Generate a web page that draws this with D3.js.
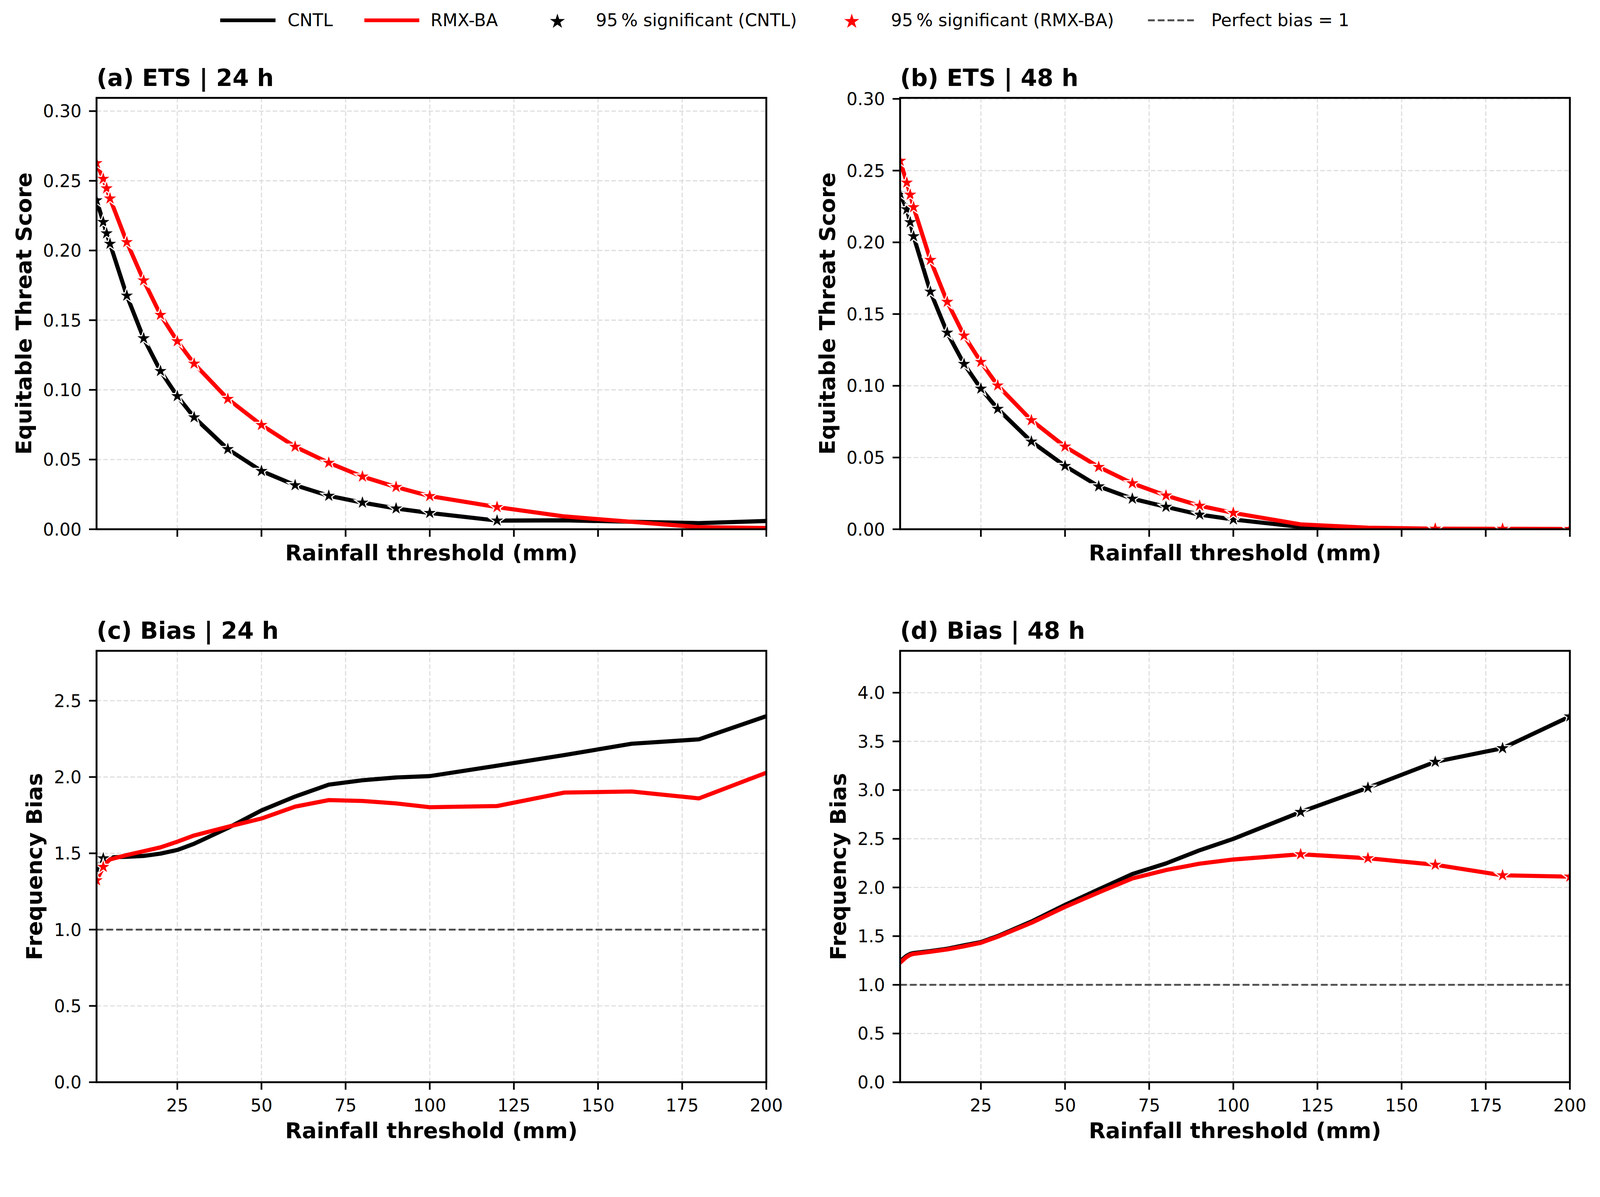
<!DOCTYPE html>
<html>
<head>
<meta charset="utf-8">
<script src="https://cdn.jsdelivr.net/npm/d3@7"></script>
<style>
  html, body { margin: 0; padding: 0; background: #fff; overflow: hidden; }
  svg { display: block; width: 100vw; height: calc(100vw * 3064 / 4251); font-family: 'DejaVu Sans', sans-serif; }
</style>
</head>
<body>
<div id="verification-chart"></div>
<script>
// rainfall thresholds (mm)
var thresholds = [1, 3, 4, 5, 10, 15, 20, 25, 30, 40, 50, 60, 70, 80, 90, 100, 120, 140, 160, 180, 200]

// equitable threat score
var ets24Cntl = [0.236, 0.2204, 0.2123, 0.2048, 0.1676, 0.137, 0.1135, 0.0955, 0.0803, 0.0575, 0.0418, 0.0316, 0.024, 0.0191, 0.0149, 0.0117, 0.0062, 0.0064, 0.0054, 0.0044, 0.0059]
var ets24Rmx = [0.2627, 0.2514, 0.2446, 0.2373, 0.206, 0.1785, 0.1538, 0.1349, 0.1188, 0.0935, 0.0748, 0.0592, 0.0477, 0.0378, 0.0303, 0.0238, 0.0159, 0.0092, 0.0053, 0.0015, 0.0009]
var ets48Cntl = [0.234, 0.223, 0.214, 0.2042, 0.1656, 0.137, 0.1152, 0.098, 0.0839, 0.0611, 0.0441, 0.0299, 0.0213, 0.0156, 0.0102, 0.0068, 0.0016, 0.0004, 0.0001, 0, 0]
var ets48Rmx = [0.2568, 0.2416, 0.2332, 0.2245, 0.1877, 0.1585, 0.135, 0.1166, 0.1002, 0.076, 0.0576, 0.0434, 0.032, 0.0235, 0.0164, 0.0114, 0.0034, 0.0011, 0.0004, 0.0003, 0.0002]

// frequency bias
var bias24Cntl = [1.4, 1.467, 1.472, 1.474, 1.477, 1.483, 1.498, 1.522, 1.563, 1.666, 1.781, 1.872, 1.95, 1.979, 1.997, 2.006, 2.074, 2.144, 2.218, 2.247, 2.399]
var bias24Rmx = [1.323, 1.411, 1.44, 1.46, 1.489, 1.514, 1.539, 1.576, 1.617, 1.674, 1.728, 1.806, 1.849, 1.843, 1.827, 1.802, 1.81, 1.898, 1.905, 1.86, 2.028]
var bias48Cntl = [1.244, 1.3, 1.318, 1.327, 1.347, 1.371, 1.406, 1.439, 1.501, 1.65, 1.821, 1.98, 2.138, 2.247, 2.382, 2.499, 2.775, 3.024, 3.29, 3.43, 3.756]
var bias48Rmx = [1.228, 1.288, 1.308, 1.318, 1.34, 1.364, 1.396, 1.432, 1.494, 1.637, 1.8, 1.949, 2.092, 2.179, 2.244, 2.287, 2.341, 2.3, 2.233, 2.125, 2.111]

// 95% significance flags (1 = significant) per threshold
var sigEts24Cntl = [1, 1, 1, 1, 1, 1, 1, 1, 1, 1, 1, 1, 1, 1, 1, 1, 1, 0, 0, 0, 0]
var sigEts24Rmx = [1, 1, 1, 1, 1, 1, 1, 1, 1, 1, 1, 1, 1, 1, 1, 1, 1, 0, 0, 0, 0]
var sigEts48Cntl = [1, 1, 1, 1, 1, 1, 1, 1, 1, 1, 1, 1, 1, 1, 1, 1, 0, 0, 0, 0, 0]
var sigEts48Rmx = [1, 1, 1, 1, 1, 1, 1, 1, 1, 1, 1, 1, 1, 1, 1, 1, 0, 0, 1, 1, 1]
var sigBias24Cntl = [1, 1, 0, 0, 0, 0, 0, 0, 0, 0, 0, 0, 0, 0, 0, 0, 0, 0, 0, 0, 0]
var sigBias24Rmx = [1, 1, 0, 0, 0, 0, 0, 0, 0, 0, 0, 0, 0, 0, 0, 0, 0, 0, 0, 0, 0]
var sigBias48Cntl = [0, 0, 0, 0, 0, 0, 0, 0, 0, 0, 0, 0, 0, 0, 0, 0, 1, 1, 1, 1, 1]
var sigBias48Rmx = [0, 0, 0, 0, 0, 0, 0, 0, 0, 0, 0, 0, 0, 0, 0, 0, 1, 1, 1, 1, 1]

// ticks and labels
var xTicks = [25, 50, 75, 100, 125, 150, 175, 200]
var etsTicks = [0, 0.05, 0.1, 0.15, 0.2, 0.25, 0.3]
var bias24Ticks = [0, 0.5, 1, 1.5, 2, 2.5]
var bias48Ticks = [0, 0.5, 1, 1.5, 2, 2.5, 3, 3.5, 4]
var panelTitles = ['(a) ETS | 24 h', '(b) ETS | 48 h', '(c) Bias | 24 h', '(d) Bias | 48 h']
var yLabels = ['Equitable Threat Score', 'Equitable Threat Score', 'Frequency Bias', 'Frequency Bias']
var xLabel = 'Rainfall threshold (mm)'
var legendLabels = ['CNTL', 'RMX-BA', '95\u2009% significant (CNTL)', '95\u2009% significant (RMX-BA)', 'Perfect bias = 1']
var perfectBias = 1

var COLOR = { CNTL: '#000000', RMX: '#ff0000', GRID: '#dddddd', REF: '#4d4d4d' }

// figure size (drawn in these units, scaled to the window width)
var fig_width = 4251
var fig_height = 3064

var svg = d3
  .select('#verification-chart')
  .append('svg')
  .attr('viewBox', '0 0 ' + fig_width + ' ' + fig_height)
  .attr('preserveAspectRatio', 'xMidYMin meet')

svg.append('rect').attr('width', fig_width).attr('height', fig_height).attr('fill', 'white')

// five-pointed star like matplotlib's '*' marker
function starPath (R) {
  var pts = d3.range(10).map(i => {
    var a = -Math.PI / 2 + i * Math.PI / 5
    var r = i % 2 ? R * 0.381966 : R
    return [r * Math.cos(a), r * Math.sin(a)]
  })
  return 'M' + pts.join('L') + 'Z'
}

// panel boxes
var colLeft = [256.5, 2391.5]
var rowTop = [260, 1729]
var panel_w = 1779.5
var panel_h = 1146

var panels = [
  { title: panelTitles[0], ylab: yLabels[0], cntl: ets24Cntl, rmx: ets24Rmx, sigC: sigEts24Cntl, sigR: sigEts24Rmx, ymax: 0.3095, ticks: etsTicks, fmt: '.2f', col: 0, row: 0, ref: false, labOff: 174 },
  { title: panelTitles[1], ylab: yLabels[1], cntl: ets48Cntl, rmx: ets48Rmx, sigC: sigEts48Cntl, sigR: sigEts48Rmx, ymax: 0.3007, ticks: etsTicks, fmt: '.2f', col: 1, row: 0, ref: false, labOff: 174 },
  { title: panelTitles[2], ylab: yLabels[2], cntl: bias24Cntl, rmx: bias24Rmx, sigC: sigBias24Cntl, sigR: sigBias24Rmx, ymax: 2.827, ticks: bias24Ticks, fmt: '.1f', col: 0, row: 1, ref: true, labOff: 145 },
  { title: panelTitles[3], ylab: yLabels[3], cntl: bias48Cntl, rmx: bias48Rmx, sigC: sigBias48Cntl, sigR: sigBias48Rmx, ymax: 4.43, ticks: bias48Ticks, fmt: '.1f', col: 1, row: 1, ref: true, labOff: 145 }
]

var plotStar = starPath(22)

panels.forEach((p, k) => {
  var g = svg
    .append('g')
    .attr('transform', 'translate(' + colLeft[p.col] + ',' + rowTop[p.row] + ')')

  var x = d3.scaleLinear().domain([1, 200]).range([0, panel_w])
  var y = d3.scaleLinear().domain([0, p.ymax]).range([panel_h, 0])

  // clip to axes area
  g.append('clipPath')
    .attr('id', 'clip-' + k)
    .append('rect')
    .attr('width', panel_w)
    .attr('height', panel_h)

  // grid
  g.selectAll('.vgrid')
    .data(xTicks)
    .enter()
    .append('line')
    .attr('x1', d => x(d))
    .attr('x2', d => x(d))
    .attr('y1', 0)
    .attr('y2', panel_h)
    .attr('stroke', COLOR.GRID)
    .attr('stroke-width', 3)
    .attr('stroke-dasharray', '12,6')

  g.selectAll('.hgrid')
    .data(p.ticks)
    .enter()
    .append('line')
    .attr('x1', 0)
    .attr('x2', panel_w)
    .attr('y1', d => y(d))
    .attr('y2', d => y(d))
    .attr('stroke', COLOR.GRID)
    .attr('stroke-width', 3)
    .attr('stroke-dasharray', '12,6')

  var plot = g.append('g').attr('clip-path', 'url(#clip-' + k + ')')

  if (p.ref) {
    plot
      .append('line')
      .attr('x1', 0)
      .attr('x2', panel_w)
      .attr('y1', y(perfectBias))
      .attr('y2', y(perfectBias))
      .attr('stroke', COLOR.REF)
      .attr('stroke-width', 5)
      .attr('stroke-dasharray', '18,8')
  }

  var line = d3
    .line()
    .x((d, i) => x(thresholds[i]))
    .y(d => y(d))

  var series = [
    { vals: p.cntl, sig: p.sigC, color: COLOR.CNTL },
    { vals: p.rmx, sig: p.sigR, color: COLOR.RMX }
  ]

  series.forEach(s => {
    plot
      .append('path')
      .datum(s.vals)
      .attr('d', line)
      .attr('fill', 'none')
      .attr('stroke', s.color)
      .attr('stroke-width', 11)
      .attr('stroke-linejoin', 'round')
      .attr('stroke-linecap', 'square')

    var pts = s.vals
      .map((v, i) => ({ t: thresholds[i], v: v, sig: s.sig[i] }))
      .filter(d => d.sig === 1)

    plot
      .selectAll(null)
      .data(pts)
      .enter()
      .append('path')
      .attr('d', plotStar)
      .attr('transform', d => 'translate(' + x(d.t) + ',' + y(d.v) + ')')
      .attr('fill', s.color)
      .attr('stroke', 'white')
      .attr('stroke-width', 3)
      .attr('stroke-linejoin', 'miter')
  })

  // x axis ticks
  g.selectAll('.xtick')
    .data(xTicks)
    .enter()
    .append('line')
    .attr('x1', d => x(d))
    .attr('x2', d => x(d))
    .attr('y1', panel_h)
    .attr('y2', panel_h + 20)
    .attr('stroke', 'black')
    .attr('stroke-width', 4.5)

  if (p.row === 1) {
    g.selectAll('.xlab')
      .data(xTicks)
      .enter()
      .append('text')
      .attr('x', d => x(d))
      .attr('y', panel_h + 78)
      .attr('text-anchor', 'middle')
      .attr('font-size', 46)
      .text(d => d)
  }

  // y axis ticks
  g.selectAll('.ytick')
    .data(p.ticks)
    .enter()
    .append('line')
    .attr('x1', -20)
    .attr('x2', 0)
    .attr('y1', d => y(d))
    .attr('y2', d => y(d))
    .attr('stroke', 'black')
    .attr('stroke-width', 4.5)

  g.selectAll('.ylab')
    .data(p.ticks)
    .enter()
    .append('text')
    .attr('x', -40)
    .attr('y', d => y(d))
    .attr('dy', '0.36em')
    .attr('text-anchor', 'end')
    .attr('font-size', 46)
    .text(d => d3.format(p.fmt)(d))

  // frame
  g.append('rect')
    .attr('width', panel_w)
    .attr('height', panel_h)
    .attr('fill', 'none')
    .attr('stroke', 'black')
    .attr('stroke-width', 5)

  // title and labels
  g.append('text')
    .attr('x', 0)
    .attr('y', -32)
    .attr('font-size', 62.5)
    .attr('font-weight', 'bold')
    .text(p.title)

  g.append('text')
    .attr('x', panel_w / 2)
    .attr('y', p.row === 0 ? panel_h + 82 : panel_h + 148)
    .attr('text-anchor', 'middle')
    .attr('font-size', 58)
    .attr('font-weight', 'bold')
    .text(xLabel)

  g.append('text')
    .attr('transform', 'translate(' + -p.labOff + ',' + panel_h / 2 + ') rotate(-90)')
    .attr('text-anchor', 'middle')
    .attr('font-size', 58)
    .attr('font-weight', 'bold')
    .text(p.ylab)
})

// legend across the top
var legend = svg.append('g').attr('transform', 'translate(0,54)')
var legendLines = [
  { x1: 585, x2: 732, color: COLOR.CNTL, tx: 764, label: legendLabels[0] },
  { x1: 968, x2: 1114, color: COLOR.RMX, tx: 1144, label: legendLabels[1] }
]
legendLines.forEach(d => {
  legend.append('line')
    .attr('x1', d.x1).attr('x2', d.x2)
    .attr('stroke', d.color)
    .attr('stroke-width', 10)
  legend.append('text')
    .attr('x', d.tx).attr('y', 16)
    .attr('font-size', 46)
    .text(d.label)
})

var legendStars = [
  { cx: 1481, color: COLOR.CNTL, tx: 1583, label: legendLabels[2] },
  { cx: 2263, color: COLOR.RMX, tx: 2367, label: legendLabels[3] }
]
legendStars.forEach(d => {
  legend.append('path')
    .attr('d', starPath(21))
    .attr('transform', 'translate(' + d.cx + ',3)')
    .attr('fill', d.color)
  legend.append('text')
    .attr('x', d.tx).attr('y', 16)
    .attr('font-size', 46)
    .text(d.label)
})

legend.append('line')
  .attr('x1', 3050).attr('x2', 3180)
  .attr('stroke', COLOR.REF)
  .attr('stroke-width', 5)
  .attr('stroke-dasharray', '18,8')
legend.append('text')
  .attr('x', 3218).attr('y', 16)
  .attr('font-size', 46)
  .text(legendLabels[4])
</script>
</body>
</html>
